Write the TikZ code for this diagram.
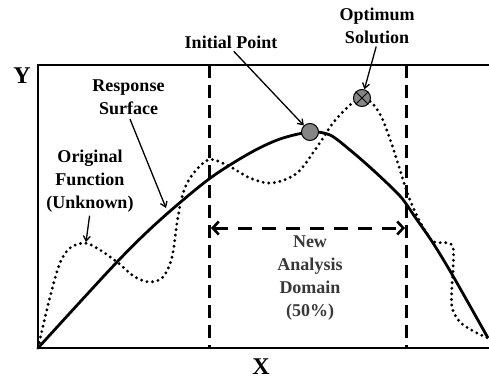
\documentclass[tikz,border=0pt]{standalone}
\usepackage{fontspec}
\setmainfont{Liberation Serif}
\usetikzlibrary{arrows.meta}
\tikzset{
  lbl/.style={inner sep=0pt, align=center, font=\fontsize{18}{23}\selectfont\bfseries},
  axislbl/.style={inner sep=0pt, anchor=base, font=\fontsize{24}{24}\selectfont\bfseries},
  pointer/.style={line width=1.3pt, -{Straight Barb[length=5pt,width=7pt,line width=1.3pt]}},
  domainline/.style={line width=3pt, dash pattern=on 13pt off 7pt},
  domainarrow/.style={line width=3pt, dash pattern=on 14pt off 10pt,
     {Straight Barb[length=6pt,width=13pt,line width=2.6pt]}-{Straight Barb[length=6pt,width=13pt,line width=2.6pt]}},
  surface/.style={line width=2.8pt},
  original/.style={line width=3.2pt, dash pattern=on 0pt off 5.6pt, line cap=round},
  marker/.style={circle, draw=black, line width=1pt, fill=black!48, minimum size=17pt, inner sep=0pt},
  frame/.style={line width=1.5pt}
}
\begin{document}
\begin{tikzpicture}[x=1pt,y=-1pt]
\useasboundingbox (0,0) rectangle (489,380);
% frame
\coordinate (tr) at (489,65);
\coordinate (tl) at (38,65);
\coordinate (bl) at (38,348);
\coordinate (br) at (489,348);
\draw[frame] (tr) -- (tl) -- (bl) -- (br);
% domain lines
\coordinate (d1t) at (209,65);
\coordinate (d1b) at (209,348);
\coordinate (d2t) at (406,65);
\coordinate (d2b) at (406,348);
\draw[domainline] (d1t) -- (d1b);
\draw[domainline] (d2t) -- (d2b);
\coordinate (al) at (211,228);
\coordinate (ar) at (405,228);
\draw[domainarrow] (al) -- (ar);
% original function (dotted)
\draw[original] plot[smooth, tension=0.55] coordinates {
 (38,348) (50,297) (60,263) (70,248) (85,243) (100,250) (117,262) (135,277) (150,282)
 (163,277) (172,257) (177,223) (182,197) (190,178) (208,160) (227,165) (250,178)
 (272,183) (297,173) (317,147) (333,123) (350,105) (362,98) (372,103) (382,118)
 (392,145) (400,170) (405,186) (410,200) (418,218) (426,232) (434,242) (452,245)
 (453,270) (452,285) (452,307) (460,322) (475,332) (488,338)};
% response surface
\draw[surface] plot[smooth, tension=0.5] coordinates {
 (38,348) (117,262) (160,220) (209,179) (250,153) (280,139) (310,132) (330,135)
 (350,150) (373,170) (400,196) (415,217) (433,243) (453,276) (488,338)};
% markers
\node[marker] (init) at (310,132) {};
\node[marker] (opt) at (362,98) {};
\draw[line width=1pt] (opt.45) -- (opt.225) (opt.135) -- (opt.315);
% labels
\node[lbl, anchor=base] (initlbl) at (231,48) {Initial Point};
\node[lbl, anchor=north] (optlbl) at (377,7.5) {Optimum\\Solution};
\node[lbl, anchor=north] (resplbl) at (128.5,80) {Response\\Surface};
\node[lbl, anchor=north] (origlbl) at (90,150) {Original\\Function\\(Unknown)};
\node[lbl, anchor=north, text=black!78] (domlbl) at (310,236) {New\\Analysis\\Domain\\(50\%)};
\node[axislbl] (ylbl) at (22,83) {Y};
\node[axislbl] (xlbl) at (261,374) {X};
% pointers
\coordinate (respt) at (166,208);
\coordinate (origpt) at (86,242);
\draw[pointer, shorten <=4pt] (initlbl.south) -- (init);
\draw[pointer, shorten <=3pt] (optlbl.south) -- (opt);
\draw[pointer, shorten <=4pt] (resplbl.south) -- (respt);
\draw[pointer, shorten <=3pt] (origlbl.south) -- (origpt);
\end{tikzpicture}
\end{document}
